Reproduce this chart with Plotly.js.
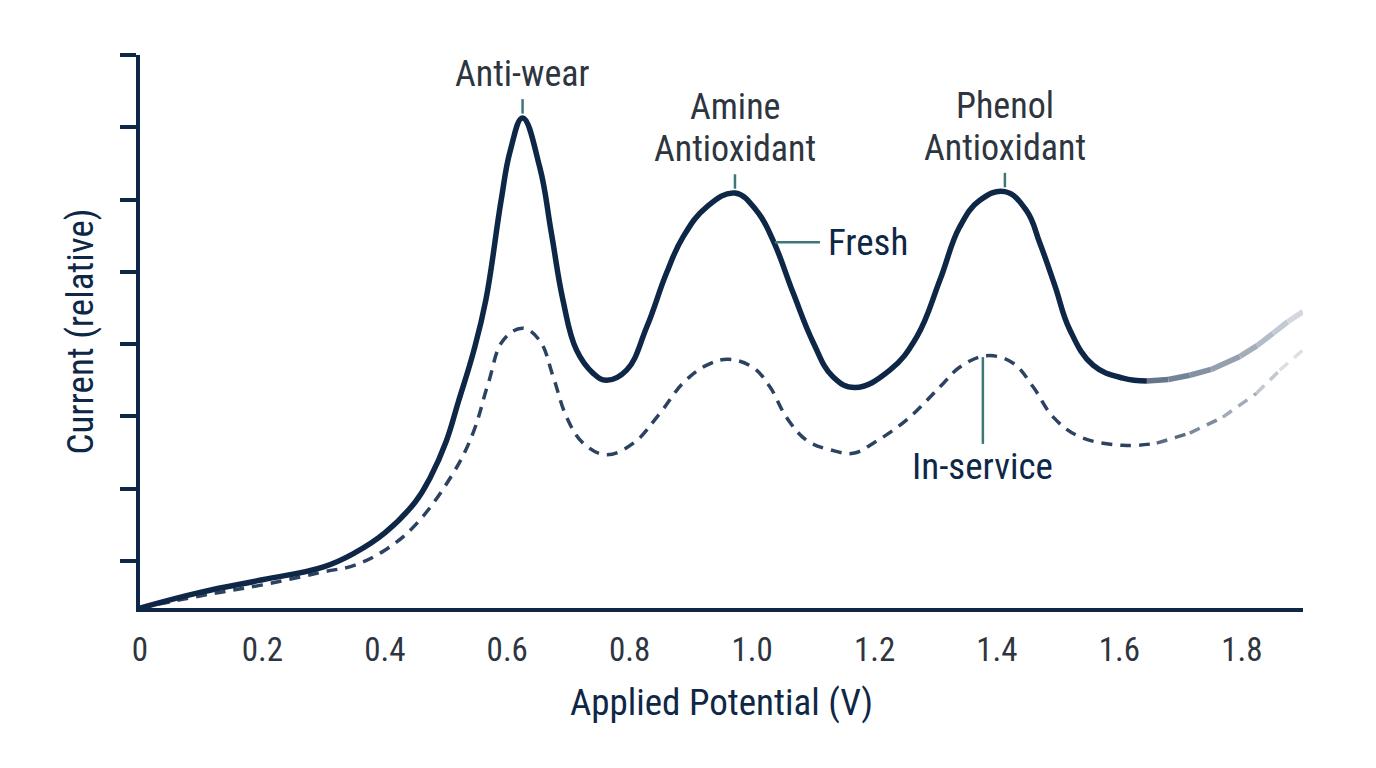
<!DOCTYPE html>
<html>
<head>
<meta charset="utf-8">
<script src="https://cdn.plot.ly/plotly-3.0.1.min.js"></script>
<style>
  html, body { margin: 0; padding: 0; background: #ffffff; }
  #chart { width: 1376px; height: 768px; }
</style>
</head>
<body>
<div id="chart"></div>
<script>
// Voltammogram of a lubricant: fresh oil vs in-service oil
const potential = [0, 0.1, 0.2, 0.3, 0.35, 0.4, 0.45, 0.475, 0.5, 0.52, 0.545, 0.565, 0.59, 0.605, 0.625, 0.653, 0.672, 0.691, 0.713, 0.74, 0.762, 0.795, 0.828, 0.86, 0.887, 0.926, 0.972, 1.007, 1.034, 1.067, 1.1, 1.132, 1.168, 1.225, 1.269, 1.307, 1.339, 1.372, 1.413, 1.448, 1.47, 1.495, 1.519, 1.557, 1.606, 1.645, 1.68, 1.715, 1.75, 1.797, 1.825, 1.851, 1.875, 1.9];
const freshCurrent = [0, 0.22, 0.39, 0.57, 0.76, 1.04, 1.47, 1.82, 2.3, 2.85, 3.55, 4.26, 5.64, 6.33, 6.78, 6.1, 5.19, 4.26, 3.57, 3.25, 3.15, 3.29, 3.89, 4.63, 5.13, 5.55, 5.74, 5.5, 5.09, 4.36, 3.67, 3.2, 3.05, 3.29, 3.75, 4.54, 5.27, 5.64, 5.76, 5.5, 5.05, 4.45, 3.85, 3.36, 3.18, 3.14, 3.16, 3.22, 3.3, 3.48, 3.63, 3.8, 3.96, 4.1];

const potentialUsed = [0, 0.1, 0.2, 0.3, 0.35, 0.4, 0.45, 0.512, 0.544, 0.569, 0.593, 0.625, 0.653, 0.675, 0.697, 0.724, 0.762, 0.806, 0.85, 0.887, 0.926, 0.961, 1.001, 1.029, 1.056, 1.089, 1.127, 1.165, 1.198, 1.252, 1.307, 1.339, 1.383, 1.426, 1.459, 1.492, 1.535, 1.606, 1.661, 1.715, 1.769, 1.824, 1.862, 1.9];
const inServiceCurrent = [0, 0.17, 0.32, 0.5, 0.59, 0.8, 1.15, 1.87, 2.42, 3.11, 3.7, 3.87, 3.7, 3.2, 2.64, 2.28, 2.12, 2.28, 2.7, 3.11, 3.36, 3.44, 3.33, 3.06, 2.64, 2.32, 2.19, 2.14, 2.28, 2.6, 3.06, 3.33, 3.49, 3.39, 3.06, 2.64, 2.37, 2.25, 2.28, 2.42, 2.64, 2.97, 3.29, 3.57];

// Peak assignments on the fresh curve
const peakNames = ['Anti-wear', 'Amine<br>Antioxidant', 'Phenol<br>Antioxidant'];
const peakPotential = [0.625, 0.972, 1.413];

// Axis ticks
const xTickVals = [0, 0.2, 0.4, 0.6, 0.8, 1.0, 1.2, 1.4, 1.6, 1.8];
const xTickText = ['0', '0.2', '0.4', '0.6', '0.8', '1.0', '1.2', '1.4', '1.6', '1.8'];
const yTickVals = [0.65, 1.65, 2.65, 3.65, 4.65, 5.65, 6.65, 7.65];
const yMajorVals = [0.65, 2.65, 4.65, 6.65];

const NAVY = '#0f2747';
const DASH_NAVY = '#2c4261';
const TEXT = '#2e353f';
const LEAD = '#3f7679';
const FONT = '"Roboto Condensed", "Liberation Sans Narrow", Roboto, sans-serif';
const FADE_FROM = 1.645;

// colours for the fading high-potential tails
const freshTail = ['#65758b', '#758397', '#8491a3', '#949faf', '#a4aebb', '#b4bcc7', '#c3cad3', '#d3d8df'];
const usedTail = ['#5a6a80', '#7f8b9c', '#a2abb7', '#c2c8d0', '#dcdfe4'];

function split(xs, ys, colors, base) {
  const out = [];
  const cut = xs.findIndex(v => v >= FADE_FROM);
  out.push({ x: xs.slice(0, cut + 1), y: ys.slice(0, cut + 1), color: base, spline: true });
  for (let i = cut; i < xs.length - 1; i++) {
    out.push({ x: [xs[i], xs[i + 1]], y: [ys[i], ys[i + 1]], color: colors[Math.min(i - cut, colors.length - 1)], spline: false });
  }
  return out;
}

const traces = [];
split(potentialUsed, inServiceCurrent, usedTail, DASH_NAVY).forEach(s => traces.push({
  type: 'scatter', mode: 'lines', x: s.x, y: s.y, hoverinfo: 'skip', showlegend: false,
  line: { color: s.color, width: 3.5, dash: '11px,8px', shape: s.spline ? 'spline' : 'linear', smoothing: 1.1 }
}));
split(potential, freshCurrent, freshTail, NAVY).forEach(s => traces.push({
  type: 'scatter', mode: 'lines', x: s.x, y: s.y, hoverinfo: 'skip', showlegend: false,
  line: { color: s.color, width: 5.5, shape: s.spline ? 'spline' : 'linear', smoothing: 1.2 }
}));

function valueAt(xs, ys, x) {
  return ys[xs.indexOf(x)];
}

const PX = 72.3; // pixels per y unit at this size
const annotations = [];
const shapes = [];
peakNames.forEach((name, i) => {
  const px = peakPotential[i];
  const py = valueAt(potential, freshCurrent, px);
  shapes.push({ type: 'line', xref: 'x', yref: 'y', x0: px, x1: px, y0: py + 0.06, y1: py + 0.26, line: { color: LEAD, width: 2.5 } });
  const lines = name.split('<br>').reverse();
  lines.forEach((ln, k) => {
    annotations.push({ xref: 'x', yref: 'y', x: px, y: py + (44 + 42 * k) / PX, xanchor: 'center', yanchor: 'middle', showarrow: false,
      height: 38, valign: 'middle',
      text: ln, font: { family: FONT, size: 36, color: TEXT }, borderpad: 0 });
  });
});

// Series labels
shapes.push({ type: 'line', xref: 'x', yref: 'y', x0: 1.037, x1: 1.111, y0: 5.06, y1: 5.06, line: { color: LEAD, width: 2.5 } });
annotations.push({ xref: 'x', yref: 'y', x: 1.12, y: 5.06, xanchor: 'left', yanchor: 'middle', showarrow: false,
  text: 'Fresh', font: { family: FONT, size: 37, color: NAVY } });
shapes.push({ type: 'line', xref: 'x', yref: 'y', x0: 1.377, x1: 1.377, y0: 3.47, y1: 2.27, line: { color: LEAD, width: 2.5 } });
annotations.push({ xref: 'x', yref: 'y', x: 1.377, y: 1.96, xanchor: 'center', yanchor: 'middle', showarrow: false,
  text: 'In-service', font: { family: FONT, size: 37, color: NAVY } });

const xRange = [0, 1.9];
const yRange = [0, 7.65];

const layout = {
  width: 1376, height: 768,
  margin: { l: 140, r: 73, t: 55, b: 160 },
  paper_bgcolor: '#ffffff', plot_bgcolor: '#ffffff',
  showlegend: false,
  xaxis: {
    range: xRange, showgrid: false, zeroline: false,
    showline: true, linecolor: NAVY, linewidth: 4,
    tickmode: 'array', tickvals: xTickVals, ticktext: xTickText,
    ticks: 'outside', ticklen: 9, tickcolor: 'rgba(0,0,0,0)',
    tickfont: { family: FONT, size: 33, color: TEXT },
    title: { text: 'Applied Potential (V)', font: { family: FONT, size: 37, color: NAVY }, standoff: 23 }
  },
  xaxis2: {
    overlaying: 'x', anchor: 'y', side: 'bottom', range: xRange,
    showgrid: false, zeroline: false, showline: false, showticklabels: false,
    tickmode: 'array', tickvals: xTickVals.slice(1), ticks: 'outside', ticklen: 13, tickwidth: 4, tickcolor: NAVY
  },
  xaxis3: {
    overlaying: 'x', anchor: 'y', side: 'bottom', range: xRange,
    showgrid: false, zeroline: false, showline: false, showticklabels: false,
    tickmode: 'array', tickvals: xTickVals.slice(1), ticks: 'inside', ticklen: 13, tickwidth: 4, tickcolor: NAVY
  },
  yaxis: {
    range: yRange, showgrid: false, zeroline: false,
    showline: true, linecolor: NAVY, linewidth: 4,
    tickmode: 'array', tickvals: yTickVals, ticks: 'outside', ticklen: 16, tickwidth: 4, tickcolor: NAVY,
    showticklabels: false,
    title: { text: 'Current (relative)', font: { family: FONT, size: 37, color: NAVY }, standoff: 16 }
  },
  yaxis2: {
    overlaying: 'y', anchor: 'x', side: 'left', range: yRange,
    showgrid: false, zeroline: false, showline: false, showticklabels: false,
    tickmode: 'array', tickvals: yMajorVals, ticks: 'inside', ticklen: 15, tickwidth: 4, tickcolor: NAVY
  },
  shapes: shapes,
  annotations: annotations
};

Plotly.newPlot('chart', traces, layout, { staticPlot: true, displayModeBar: false });
</script>
</body>
</html>
